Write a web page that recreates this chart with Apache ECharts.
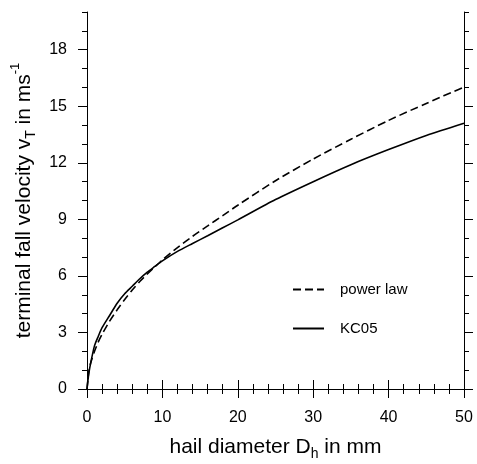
<!DOCTYPE html>
<html>
<head>
<meta charset="utf-8">
<script src="https://cdn.jsdelivr.net/npm/echarts@6/dist/echarts.min.js"></script>
<style>
html,body{margin:0;padding:0;background:#fff;}
#chart{width:477px;height:464px;}
</style>
</head>
<body>
<div id="chart"></div>
<script>
// Hail diameter (mm)
const diameters = [0, 0.25, 0.5, 1, 1.5, 2, 3, 4, 5, 6, 7, 8, 9, 10, 12, 14, 16, 18, 20, 25, 30, 35, 40, 45, 50];
// power law terminal fall velocity (m/s)
const powerLaw = [0, 0.95, 1.4, 2.0, 2.5, 2.9, 3.6, 4.2, 4.75, 5.25, 5.7, 6.1, 6.48, 6.85, 7.5, 8.1, 8.65, 9.2, 9.75, 11.05, 12.2, 13.25, 14.25, 15.15, 16.02];
// KC05 terminal fall velocity (m/s)
const kc05 = [0, 0.85, 1.4, 2.3, 2.8, 3.25, 3.9, 4.55, 5.05, 5.45, 5.85, 6.2, 6.5, 6.8, 7.3, 7.72, 8.13, 8.55, 8.97, 10.05, 11.0, 11.9, 12.7, 13.45, 14.1];
const seriesNames = ['power law', 'KC05'];
const yMajorTicks = [0, 3, 6, 9, 12, 15, 18];
const xTickLabels = [0, 10, 20, 30, 40, 50];

const FONT = 'Liberation Sans, Arial, Helvetica, sans-serif';
const toPairs = (xs, ys) => xs.map((x, i) => [x, ys[i]]);

const chart = echarts.init(document.getElementById('chart'), null, {renderer: 'canvas'});

const axisLineStyle = {color: '#000', width: 1};
const majorTick = (len) => ({show: true, length: len, lineStyle: {color: '#000', width: 1}});

const option = {
  animation: false,
  backgroundColor: '#fff',
  grid: {left: 87, right: 13, top: 12, bottom: 75, containLabel: false, outerBoundsMode: 'none'},
  legend: {
    orient: 'vertical',
    left: 292,
    top: 282,
    padding: 0,
    itemWidth: 31,
    itemHeight: 14,
    itemGap: 24,
    data: seriesNames,
    itemStyle: {color: 'rgba(0,0,0,0)', borderWidth: 0, opacity: 0},
    textStyle: {fontFamily: FONT, fontSize: 15, color: '#000', padding: [0, 0, 0, 11]}
  },
  xAxis: [
    {
      type: 'value', position: 'bottom', min: 0, max: 50, interval: 10,
      axisLine: {show: true, lineStyle: axisLineStyle},
      axisTick: majorTick(9),
      minorTick: {show: true, splitNumber: 5, length: 5, lineStyle: {color: '#000', width: 1}},
      splitLine: {show: false}, minorSplitLine: {show: false},
      axisLabel: {
        show: true, margin: 21, color: '#000', fontFamily: FONT, fontSize: 16,
        customValues: xTickLabels
      },
      name: '{a|hail diameter D}{s|h}{a| in mm}',
      nameLocation: 'middle',
      nameGap: 47,
      nameTextStyle: {
        rich: {
          a: {fontFamily: FONT, fontSize: 21, color: '#000', lineHeight: 22},
          s: {fontFamily: FONT, fontSize: 14, color: '#000', lineHeight: 14, padding: [14, 0, 0, 0]}
        }
      }
    },
    {
      type: 'value', position: 'top', min: 0, max: 50, interval: 10,
      axisLine: {show: true, lineStyle: axisLineStyle},
      axisTick: majorTick(9),
      minorTick: {show: true, splitNumber: 5, length: 5, lineStyle: {color: '#000', width: 1}},
      splitLine: {show: false}, minorSplitLine: {show: false},
      axisLabel: {show: false}
    }
  ],
  yAxis: [
    {
      type: 'value', position: 'left', min: 0, max: 20,
      axisLine: {show: true, lineStyle: axisLineStyle},
      axisTick: Object.assign(majorTick(9), {customValues: yMajorTicks}),
      splitLine: {show: false},
      axisLabel: {
        show: true, margin: 20, color: '#000', fontFamily: FONT, fontSize: 16,
        customValues: yMajorTicks
      },
      name: '{a|terminal fall velocity v}{s|T}{a| in ms}{p|-1}',
      nameLocation: 'middle',
      nameGap: 47,
      nameTextStyle: {
        rich: {
          a: {fontFamily: FONT, fontSize: 21, color: '#000', lineHeight: 22},
          s: {fontFamily: FONT, fontSize: 14, color: '#000', lineHeight: 14, padding: [14, 0, 0, 0]},
          p: {fontFamily: FONT, fontSize: 13, color: '#000', lineHeight: 13, padding: [0, 0, 16, 0]}
        }
      }
    },
    {
      type: 'value', position: 'left', min: 0, max: 20, interval: 1,
      axisLine: {show: false},
      axisTick: majorTick(5),
      splitLine: {show: false},
      axisLabel: {show: false}
    },
    {
      type: 'value', position: 'right', min: 0, max: 20,
      axisLine: {show: true, lineStyle: axisLineStyle},
      axisTick: Object.assign(majorTick(9), {customValues: yMajorTicks}),
      splitLine: {show: false},
      axisLabel: {show: false}
    },
    {
      type: 'value', position: 'right', min: 0, max: 20, interval: 1,
      axisLine: {show: false},
      axisTick: majorTick(5),
      splitLine: {show: false},
      axisLabel: {show: false}
    }
  ],
  series: [
    {
      name: seriesNames[0], type: 'line', xAxisIndex: 0, yAxisIndex: 0,
      data: toPairs(diameters, powerLaw),
      showSymbol: false, symbol: 'none', smooth: 0.25,
      lineStyle: {color: '#000', width: 1.6, type: [8, 4]},
      itemStyle: {color: '#000'}
    },
    {
      name: seriesNames[1], type: 'line', xAxisIndex: 0, yAxisIndex: 0,
      data: toPairs(diameters, kc05),
      showSymbol: false, symbol: 'none', smooth: 0.25,
      lineStyle: {color: '#000', width: 1.6, type: 'solid'},
      itemStyle: {color: '#000'}
    }
  ]
};
chart.setOption(option);
</script>
</body>
</html>
